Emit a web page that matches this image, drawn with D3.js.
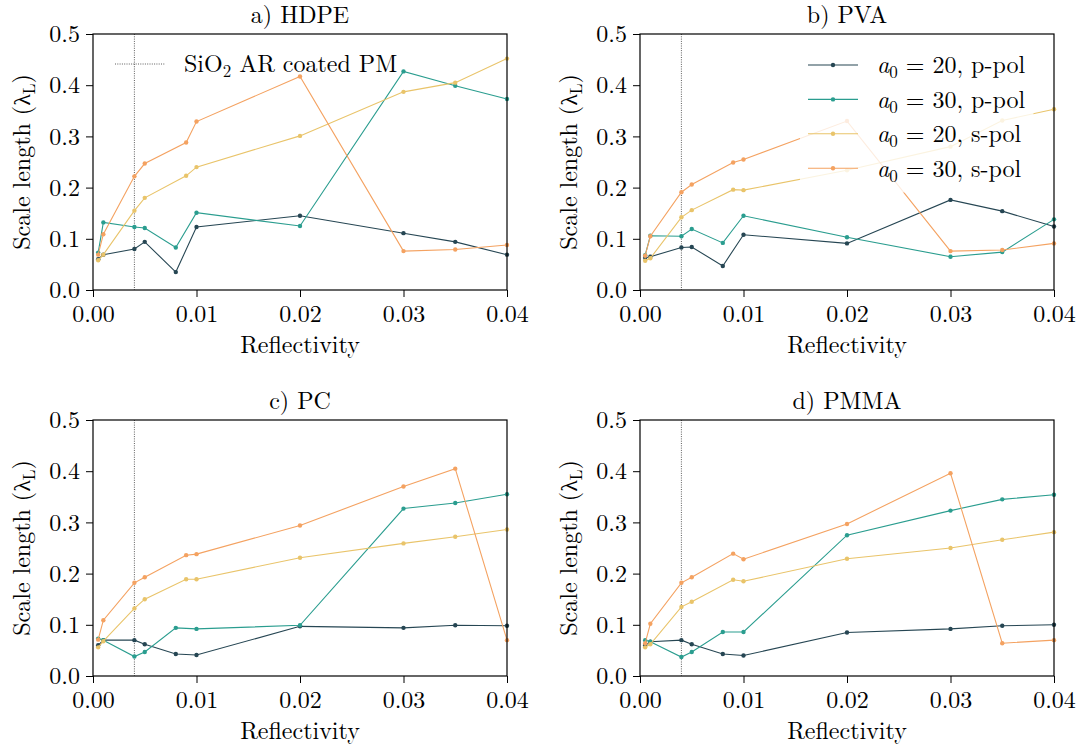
<!DOCTYPE html>
<html>
<head>
<meta charset="utf-8">
<script src="https://cdn.jsdelivr.net/npm/d3@7/dist/d3.min.js"></script>
<style>
  body { margin: 0; background: #fff; }
  svg text { font-family: "Latin Modern Roman", "CMU Serif", "Liberation Serif", serif; fill: #000; }
</style>
</head>
<body>
<svg id="chart" width="1083" height="754"></svg>
<script>
let svg = d3.select("#chart");

// reflectivity values (p-pol series sample 0.008, s-pol series 0.009)
let x_p = [0.0005, 0.001, 0.004, 0.005, 0.008, 0.01, 0.02, 0.03, 0.035, 0.04];
let x_s = [0.0005, 0.001, 0.004, 0.005, 0.009, 0.01, 0.02, 0.03, 0.035, 0.04];

let hdpe_p20 = [0.060, 0.069, 0.080, 0.094, 0.035, 0.123, 0.145, 0.111, 0.094, 0.069];
let hdpe_p30 = [0.073, 0.132, 0.123, 0.121, 0.083, 0.151, 0.125, 0.427, 0.399, 0.373];
let hdpe_s20 = [0.058, 0.069, 0.155, 0.180, 0.223, 0.240, 0.301, 0.387, 0.405, 0.452];
let hdpe_s30 = [0.069, 0.109, 0.222, 0.247, 0.288, 0.329, 0.417, 0.076, 0.079, 0.088];

let pva_p20 = [0.063, 0.065, 0.083, 0.084, 0.047, 0.108, 0.091, 0.176, 0.154, 0.124];
let pva_p30 = [0.068, 0.106, 0.105, 0.119, 0.092, 0.145, 0.103, 0.065, 0.074, 0.138];
let pva_s20 = [0.057, 0.062, 0.142, 0.156, 0.196, 0.195, 0.234, 0.280, 0.331, 0.353];
let pva_s30 = [0.067, 0.105, 0.191, 0.206, 0.249, 0.255, 0.330, 0.076, 0.078, 0.091];

let pc_p20 = [0.060, 0.070, 0.070, 0.062, 0.043, 0.041, 0.097, 0.094, 0.099, 0.098];
let pc_p30 = [0.073, 0.070, 0.038, 0.047, 0.094, 0.092, 0.099, 0.327, 0.338, 0.355];
let pc_s20 = [0.056, 0.068, 0.132, 0.150, 0.189, 0.189, 0.231, 0.259, 0.272, 0.286];
let pc_s30 = [0.071, 0.109, 0.182, 0.193, 0.236, 0.238, 0.294, 0.370, 0.405, 0.070];

let pmma_p20 = [0.060, 0.067, 0.070, 0.062, 0.043, 0.040, 0.085, 0.092, 0.098, 0.100];
let pmma_p30 = [0.070, 0.067, 0.037, 0.047, 0.086, 0.086, 0.275, 0.323, 0.345, 0.354];
let pmma_s20 = [0.056, 0.062, 0.135, 0.145, 0.188, 0.185, 0.229, 0.250, 0.266, 0.281];
let pmma_s30 = [0.064, 0.102, 0.182, 0.193, 0.239, 0.228, 0.297, 0.396, 0.064, 0.070];

let titles = ["a) HDPE", "b) PVA", "c) PC", "d) PMMA"];
let series_a0 = ["20", "30", "20", "30"];
let series_pol = ["p-pol", "p-pol", "s-pol", "s-pol"];
let colors = ["#264653", "#2a9d8f", "#e9c46a", "#f4a261"];
let x_ticks = [0, 0.01, 0.02, 0.03, 0.04];
let y_ticks = [0, 0.1, 0.2, 0.3, 0.4, 0.5];
let coated_pm = 0.004;

let panel_data = [
  [hdpe_p20, hdpe_p30, hdpe_s20, hdpe_s30],
  [pva_p20, pva_p30, pva_s20, pva_s30],
  [pc_p20, pc_p30, pc_s20, pc_s30],
  [pmma_p20, pmma_p30, pmma_s20, pmma_s30],
];
let series_x = [x_p, x_p, x_s, x_s];

let panel_w = 414;
let panel_h = 256;
let panel_pos = [[93, 34], [640, 34], [93, 420], [640, 420]];
let font_size = 24;

let x_scale = d3.scaleLinear().domain([0, 0.04]).range([0, panel_w]);
let y_scale = d3.scaleLinear().domain([0, 0.5]).range([panel_h, 0]);

let line = d3.line()
  .x((d) => x_scale(d[0]))
  .y((d) => y_scale(d[1]));

// semi-transparent white box behind a legend, no visible edge
const drawLegendBox = function(g) {
  let bb = g.node().getBBox();
  g.insert("rect", ":first-child")
    .attr("x", bb.x - 8)
    .attr("y", bb.y - 6)
    .attr("width", bb.width + 16)
    .attr("height", bb.height + 12)
    .attr("rx", 4)
    .attr("fill", "#fff")
    .attr("fill-opacity", 0.8);
}

const renderPanel = function(d, p) {
  let frame = svg.append("g")
    .attr("transform", "translate(" + panel_pos[p][0] + "," + panel_pos[p][1] + ")");

  // vertical marker for the coated PM reflectivity
  frame.append("line")
    .attr("x1", x_scale(coated_pm))
    .attr("x2", x_scale(coated_pm))
    .attr("y1", 0)
    .attr("y2", panel_h)
    .attr("stroke", "#333")
    .attr("stroke-width", 0.8)
    .attr("stroke-dasharray", "1,1.3");

  d.forEach((ys, s) => {
    let pts = ys.map((y, i) => [series_x[s][i], y]);
    let g = frame.append("g").attr("class", "series");
    g.append("path")
      .attr("d", line(pts))
      .attr("fill", "none")
      .attr("stroke", colors[s])
      .attr("stroke-width", 1.1);
    g.selectAll("circle")
      .data(pts)
      .enter().append("circle")
        .attr("cx", (q) => x_scale(q[0]))
        .attr("cy", (q) => y_scale(q[1]))
        .attr("r", 2.2)
        .attr("fill", colors[s]);
  });

  // axes
  let x_axis = frame.append("g")
    .attr("transform", "translate(0," + panel_h + ")")
    .call(d3.axisBottom(x_scale).tickValues(x_ticks).tickFormat(d3.format(".2f")).tickSize(7).tickPadding(6));
  let y_axis = frame.append("g")
    .call(d3.axisLeft(y_scale).tickValues(y_ticks).tickFormat(d3.format(".1f")).tickSize(7).tickPadding(6));
  [x_axis, y_axis].forEach((ax) => {
    ax.select(".domain").remove();
    ax.selectAll("line").attr("stroke", "#000").attr("stroke-width", 1);
    ax.selectAll("text").style("font-size", font_size + "px").attr("fill", "#000");
  });
  x_axis.selectAll("text").attr("dy", "0.8em");

  frame.append("rect")
    .attr("width", panel_w)
    .attr("height", panel_h)
    .attr("fill", "none")
    .attr("stroke", "#000")
    .attr("stroke-width", 1.2);

  frame.append("text")
    .attr("x", panel_w / 2)
    .attr("y", -11)
    .attr("text-anchor", "middle")
    .style("font-size", font_size + "px")
    .text(titles[p]);

  frame.append("text")
    .attr("x", panel_w / 2)
    .attr("y", panel_h + 63)
    .attr("text-anchor", "middle")
    .style("font-size", font_size + "px")
    .text("Reflectivity");

  let yl = frame.append("text")
    .attr("transform", "translate(-63," + (panel_h / 2) + ") rotate(-90)")
    .attr("text-anchor", "middle")
    .style("font-size", font_size + "px");
  yl.append("tspan").text("Scale length (λ");
  yl.append("tspan").attr("dy", 5).style("font-size", "17px").text("L");
  yl.append("tspan").attr("dy", -5).text(")");

  return frame;
}

let frames = panel_data.map((d, p) => renderPanel(d, p));

// legend in panel a: coated PM marker line (frame is see-through here)
let leg_a = frames[0].append("g").attr("transform", "translate(22,30)");
leg_a.append("line")
  .attr("x1", 0).attr("x2", 50)
  .attr("stroke", "#333")
  .attr("stroke-width", 0.8)
  .attr("stroke-dasharray", "1,1.3");
let ta = leg_a.append("text")
  .attr("x", 69)
  .attr("dy", "0.35em")
  .style("font-size", font_size + "px");
ta.append("tspan").text("SiO");
ta.append("tspan").attr("dy", 5).style("font-size", "17px").text("2");
ta.append("tspan").attr("dy", -5).text(" AR coated PM");

// legend in panel b: series
let leg_b = frames[1].append("g").attr("transform", "translate(168,31)");
colors.forEach((c, s) => {
  let row = leg_b.append("g").attr("transform", "translate(0," + (s * 34.4) + ")");
  row.append("line")
    .attr("x1", 0).attr("x2", 50)
    .attr("stroke", c)
    .attr("stroke-width", 1.1);
  row.append("circle").attr("cx", 25).attr("r", 2.2).attr("fill", c);
  let t = row.append("text")
    .attr("x", 69)
    .attr("dy", "0.35em")
    .style("font-size", font_size + "px");
  t.append("tspan").style("font-style", "italic").text("a");
  t.append("tspan").attr("dy", 5).style("font-size", "17px").text("0");
  t.append("tspan").attr("dy", -5).text(" = " + series_a0[s] + ", " + series_pol[s]);
});
drawLegendBox(leg_b);
</script>
</body>
</html>
